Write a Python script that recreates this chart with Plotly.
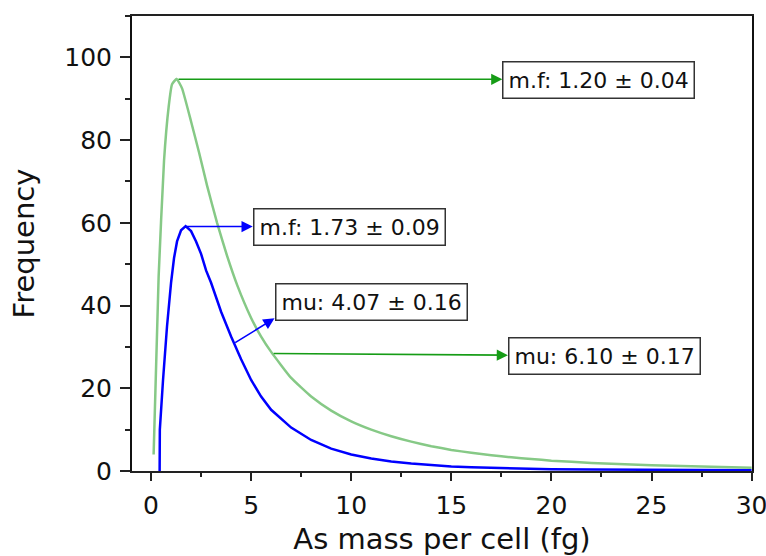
import plotly.graph_objects as go

# ---- data ----
green_x = [0.13, 0.38, 0.65, 0.88, 1.05, 1.28, 1.55, 2.0, 2.4, 2.8, 3.3, 3.8, 4.3, 5.0, 5.5,
           6.0, 7.0, 8.0, 9.0, 10, 11, 12, 13, 14, 15, 16, 17, 18, 19, 20, 22, 24, 26, 28, 30]
green_y = [4, 47, 75, 88, 93.5, 94.8, 92.5, 84.5, 77, 69, 60, 52, 45, 37, 32.5,
           28.8, 22.5, 18, 14.6, 12, 10, 8.4, 7.1, 6.0, 5.1, 4.4, 3.8, 3.3, 2.9, 2.5, 1.95, 1.55, 1.25, 1.0, 0.8]

blue_x = [0.43, 0.44, 0.6, 0.8, 1.0, 1.15, 1.3, 1.5, 1.73, 2.0, 2.25, 2.5, 2.75, 3.0, 3.5, 4.0, 4.5,
          5.0, 5.5, 6.0, 7.0, 8.0, 9.0, 10, 11, 12, 13, 14, 15, 16, 17, 18, 20, 22, 25, 30]
blue_y = [0, 10, 22, 35, 45.5, 51.5, 55.5, 58.2, 59.2, 58, 55.5, 52.5, 48.5, 45.5, 38.5, 32.5, 27,
          22, 18, 14.8, 10.5, 7.5, 5.4, 4.0, 3.0, 2.3, 1.8, 1.4, 1.1, 0.9, 0.75, 0.6, 0.45, 0.35, 0.25, 0.2]

label_texts = ["m.f: 1.20 \u00b1 0.04", "m.f: 1.73 \u00b1 0.09",
               "mu: 4.07 \u00b1 0.16", "mu: 6.10 \u00b1 0.17"]

x_tick_vals = [0, 5, 10, 15, 20, 25, 30]
y_tick_vals = [0, 20, 40, 60, 80, 100]

GREEN_LINE = "#86c986"
GREEN_ARROW = "#169c16"
BLUE = "#0000ff"
FONT = "DejaVu Sans"

fig = go.Figure()
fig.add_trace(go.Scatter(x=green_x, y=green_y, mode="lines", line_shape="spline",
                         line=dict(color=GREEN_LINE, width=2.5, smoothing=0.4), showlegend=False))
fig.add_trace(go.Scatter(x=blue_x, y=blue_y, mode="lines",
                         line=dict(color=BLUE, width=2.5), showlegend=False))

# arrows: (head x, head y, tail x, tail y, colour)
arrows = [
    (17.55, 94.7, 1.3, 94.7, GREEN_ARROW),
    (5.08, 59.1, 1.72, 59.1, BLUE),
    (6.17, 36.9, 4.13, 30.8, BLUE),
    (17.83, 28.0, 6.05, 28.4, GREEN_ARROW),
]
for hx, hy, tx, ty, c in arrows:
    fig.add_annotation(x=hx, y=hy, ax=tx, ay=ty, xref="x", yref="y", axref="x", ayref="y",
                       text="", showarrow=True, arrowhead=2, arrowsize=1.4, arrowwidth=1.6,
                       arrowcolor=c)

# label boxes: (left x, centre y)
box_pos = [(17.55, 94.6), (5.08, 59.1), (6.17, 40.8), (17.83, 27.9)]
for (bx, by), t in zip(box_pos, label_texts):
    fig.add_annotation(x=bx, y=by, xref="x", yref="y", text=t, showarrow=False,
                       xanchor="left", yanchor="middle",
                       font=dict(family=FONT, size=22, color="#111"),
                       bgcolor="white", bordercolor="#333", borderwidth=1.5, borderpad=5)

fig.update_layout(
    width=766, height=556,
    margin=dict(l=132, r=14, t=16, b=85),
    paper_bgcolor="white", plot_bgcolor="white",
    font=dict(family=FONT, color="#111"),
    showlegend=False,
)
fig.update_xaxes(
    range=[-0.95, 30.02], tickvals=x_tick_vals, showgrid=False, zeroline=False, automargin=False,
    showline=True, linecolor="#222", linewidth=1.5, mirror=True, ticklabeloverflow="allow",
    ticks="outside", ticklen=8, tickwidth=1.5, tickcolor="#222", ticklabelstandoff=3,
    minor=dict(dtick=2.5, tick0=0, ticks="outside", ticklen=4, tickwidth=1.5, tickcolor="#222"),
    tickfont=dict(family=FONT, size=25, color="#111"),
    title=dict(text="As mass per cell (fg)", font=dict(family=FONT, size=29, color="#111"), standoff=12),
)
fig.update_yaxes(
    range=[0, 110], tickvals=y_tick_vals, showgrid=False, zeroline=False, automargin=False,
    showline=True, linecolor="#111", linewidth=2, mirror=True,
    ticks="outside", ticklen=10, tickwidth=1.5, tickcolor="#222", ticklabelstandoff=3,
    minor=dict(dtick=10, tick0=0, ticks="outside", ticklen=5, tickwidth=1.5, tickcolor="#222"),
    tickfont=dict(family=FONT, size=25, color="#111"),
    title=dict(text="Frequency", font=dict(family=FONT, size=29, color="#111"), standoff=21),
)

fig.write_html("out.html", config={"displayModeBar": False},
               post_script="document.body.style.margin='0';document.body.style.padding='0';")
